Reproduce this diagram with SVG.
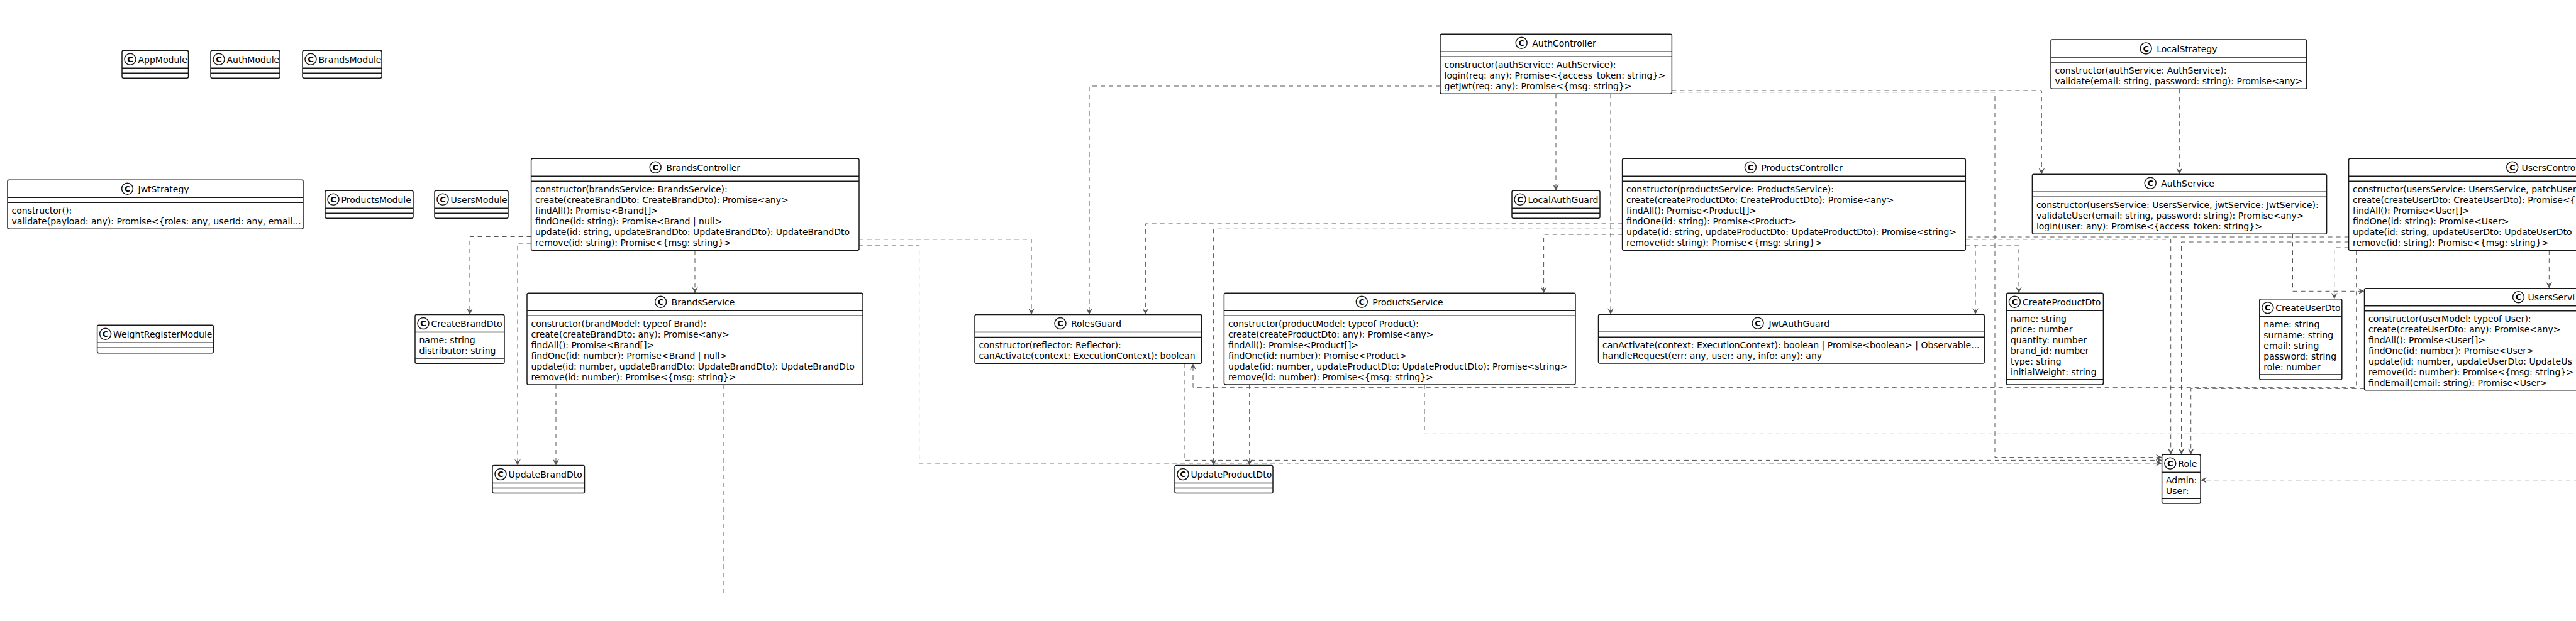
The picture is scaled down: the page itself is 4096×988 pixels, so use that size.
<svg xmlns="http://www.w3.org/2000/svg" width="4096" height="988" viewBox="0 0 4096 988">
<style>
.n rect{fill:#fff;stroke:#181818;stroke-width:1.5}
.n line{stroke:#181818;stroke-width:1.5}
.n circle{fill:#fff;stroke:#181818;stroke-width:1.5}
text{font-family:"DejaVu Sans","Liberation Sans",sans-serif;font-size:14px;fill:#000}
text.ic{font-weight:bold;font-size:13px;text-anchor:middle}
.dep{fill:none;stroke:#555;stroke-width:1;stroke-dasharray:7,6}
</style>
<defs>
<marker id="arr" viewBox="0 0 10 10" refX="10" refY="5" markerWidth="10" markerHeight="10" orient="auto" markerUnits="userSpaceOnUse"><path d="M0,0 L10,5 L0,10 L4,5 Z" fill="#555" stroke="none"/></marker>
</defs>
<rect x="0" y="0" width="4096" height="988" fill="#fff"/>
<g id="connectors">
<path class="dep" marker-end="url(#arr)" d="M844.6,376.5 H747 V500.6"/>
<path class="dep" marker-end="url(#arr)" d="M844.6,387 H823 V740.5"/>
<path class="dep" marker-end="url(#arr)" d="M884,612 V740.5"/>
<path class="dep" marker-end="url(#arr)" d="M1105,398.3 V466.3"/>
<path class="dep" d="M1150,612 V943.5 H4100"/>
<path class="dep" marker-end="url(#arr)" d="M1366,380.8 H1640 V500.6"/>
<path class="dep" marker-end="url(#arr)" d="M1366,390 H1461.6 V736.9 H3437.6"/>
<path class="dep" marker-end="url(#arr)" d="M2290,137 H1732 V500.6"/>
<path class="dep" marker-end="url(#arr)" d="M2474,149.3 V303.3"/>
<path class="dep" marker-end="url(#arr)" d="M2561,149.3 V500.3"/>
<path class="dep" marker-end="url(#arr)" d="M2658.4,144 H3246.3 V277.3"/>
<path class="dep" marker-end="url(#arr)" d="M2658.4,146.7 H3172 V727.6 H3437.6"/>
<path class="dep" marker-end="url(#arr)" d="M3465.3,141.3 V277.3"/>
<path class="dep" marker-end="url(#arr)" d="M2579.6,356 H1821.4 V500.6"/>
<path class="dep" marker-end="url(#arr)" d="M2579.6,364.3 H1929.6 V740.5"/>
<path class="dep" marker-end="url(#arr)" d="M2579.6,373 H2454.6 V466.3"/>
<path class="dep" marker-end="url(#arr)" d="M1986.7,612 V740.5"/>
<path class="dep" d="M2265,612 V690.4 H4100"/>
<path class="dep" marker-end="url(#arr)" d="M1883,578.3 V732.4 H3437.6"/>
<path class="dep" marker-end="url(#arr)" d="M3746.7,398.3 V616.3 H1897 V578.3"/>
<path class="dep" marker-end="url(#arr)" d="M3125.3,389.5 H3141 V500.3"/>
<path class="dep" marker-end="url(#arr)" d="M3125.3,390 H3210 V466.3"/>
<path class="dep" marker-end="url(#arr)" d="M3125.3,380.8 H3451.7 V723.2"/>
<path class="dep" d="M3734.6,377 H3125.3"/>
<path class="dep" marker-end="url(#arr)" d="M3734.6,385 H3468.5 V723.2"/>
<path class="dep" marker-end="url(#arr)" d="M3734.6,394 H3711.7 V475.7"/>
<path class="dep" marker-end="url(#arr)" d="M3645.5,372.3 V463.3 H3759.5"/>
<path class="dep" marker-end="url(#arr)" d="M4053.3,398.3 V458.7"/>
<path class="dep" marker-end="url(#arr)" d="M3759.5,618.3 H3483.7 V723.2"/>
<path class="dep" marker-end="url(#arr)" d="M4100,763.7 H3499"/>
</g>
<g id="AppModule" class="n"><rect x="194" y="80.3" width="105.5" height="44" rx="2.5"/><line x1="194" y1="108.3" x2="299.5" y2="108.3"/><line x1="194" y1="116.3" x2="299.5" y2="116.3"/><circle cx="207" cy="94.3" r="9"/><text class="ic" x="207" y="99">C</text><text x="219.5" y="99.8">AppModule</text></g>
<g id="AuthModule" class="n"><rect x="335" y="80.3" width="110" height="44" rx="2.5"/><line x1="335" y1="108.3" x2="445" y2="108.3"/><line x1="335" y1="116.3" x2="445" y2="116.3"/><circle cx="348" cy="94.3" r="9"/><text class="ic" x="348" y="99">C</text><text x="360.5" y="99.8">AuthModule</text></g>
<g id="BrandsModule" class="n"><rect x="481" y="80.3" width="126" height="44" rx="2.5"/><line x1="481" y1="108.3" x2="607" y2="108.3"/><line x1="481" y1="116.3" x2="607" y2="116.3"/><circle cx="494" cy="94.3" r="9"/><text class="ic" x="494" y="99">C</text><text x="506.5" y="99.8">BrandsModule</text></g>
<g id="ProductsModule" class="n"><rect x="517" y="303.3" width="140" height="44" rx="2.5"/><line x1="517" y1="331.3" x2="657" y2="331.3"/><line x1="517" y1="339.3" x2="657" y2="339.3"/><circle cx="530" cy="317.3" r="9"/><text class="ic" x="530" y="322">C</text><text x="542.5" y="322.8">ProductsModule</text></g>
<g id="UsersModule" class="n"><rect x="691" y="303.3" width="117" height="44" rx="2.5"/><line x1="691" y1="331.3" x2="808" y2="331.3"/><line x1="691" y1="339.3" x2="808" y2="339.3"/><circle cx="704" cy="317.3" r="9"/><text class="ic" x="704" y="322">C</text><text x="716.5" y="322.8">UsersModule</text></g>
<g id="WeightRegisterModule" class="n"><rect x="154.6" y="517.3" width="184.7" height="44.4" rx="2.5"/><line x1="154.6" y1="545.3" x2="339.3" y2="545.3"/><line x1="154.6" y1="553.3" x2="339.3" y2="553.3"/><circle cx="167.6" cy="531.3" r="9"/><text class="ic" x="167.6" y="536">C</text><text x="180.1" y="536.8">WeightRegisterModule</text></g>
<g id="LocalAuthGuard" class="n"><rect x="2404" y="303.3" width="140" height="44" rx="2.5"/><line x1="2404" y1="331.3" x2="2544" y2="331.3"/><line x1="2404" y1="339.3" x2="2544" y2="339.3"/><circle cx="2417" cy="317.3" r="9"/><text class="ic" x="2417" y="322">C</text><text x="2429.5" y="322.8">LocalAuthGuard</text></g>
<g id="UpdateBrandDto" class="n"><rect x="783" y="740.5" width="146.5" height="44" rx="2.5"/><line x1="783" y1="768.5" x2="929.5" y2="768.5"/><line x1="783" y1="776.5" x2="929.5" y2="776.5"/><circle cx="796" cy="754.5" r="9"/><text class="ic" x="796" y="759.2">C</text><text x="808.5" y="760">UpdateBrandDto</text></g>
<g id="UpdateProductDto" class="n"><rect x="1868" y="740.5" width="156" height="44" rx="2.5"/><line x1="1868" y1="768.5" x2="2024" y2="768.5"/><line x1="1868" y1="776.5" x2="2024" y2="776.5"/><circle cx="1881" cy="754.5" r="9"/><text class="ic" x="1881" y="759.2">C</text><text x="1893.5" y="760">UpdateProductDto</text></g>
<g id="JwtStrategy" class="n"><rect x="12" y="286.3" width="470" height="78" rx="2.5"/><line x1="12" y1="314.3" x2="482" y2="314.3"/><line x1="12" y1="322.3" x2="482" y2="322.3"/><circle cx="202.5" cy="300.3" r="9"/><text class="ic" x="202.5" y="305">C</text><text x="219.5" y="305.8">JwtStrategy</text><text x="18.5" y="339.8">constructor():</text><text x="18.5" y="356.8">validate(payload: any): Promise&lt;{roles: any, userId: any, email...</text></g>
<g id="BrandsController" class="n"><rect x="844.6" y="252.3" width="521.4" height="146" rx="2.5"/><line x1="844.6" y1="280.3" x2="1366" y2="280.3"/><line x1="844.6" y1="288.3" x2="1366" y2="288.3"/><circle cx="1042.2" cy="266.3" r="9"/><text class="ic" x="1042.2" y="271">C</text><text x="1059.2" y="271.8">BrandsController</text>
<text x="851.1" y="305.8">constructor(brandsService: BrandsService):</text>
<text x="851.1" y="322.8">create(createBrandDto: CreateBrandDto): Promise&lt;any&gt;</text>
<text x="851.1" y="339.8">findAll(): Promise&lt;Brand[]&gt;</text>
<text x="851.1" y="356.8">findOne(id: string): Promise&lt;Brand | null&gt;</text>
<text x="851.1" y="373.8">update(id: string, updateBrandDto: UpdateBrandDto): UpdateBrandDto</text>
<text x="851.1" y="390.8">remove(id: string): Promise&lt;{msg: string}&gt;</text></g>
<g id="BrandsService" class="n"><rect x="838" y="466.3" width="534" height="145.7" rx="2.5"/><line x1="838" y1="494.3" x2="1372" y2="494.3"/><line x1="838" y1="502.3" x2="1372" y2="502.3"/><circle cx="1050.6" cy="480.3" r="9"/><text class="ic" x="1050.6" y="485">C</text><text x="1067.6" y="485.8">BrandsService</text>
<text x="844.5" y="519.8">constructor(brandModel: typeof Brand):</text>
<text x="844.5" y="536.8">create(createBrandDto: any): Promise&lt;any&gt;</text>
<text x="844.5" y="553.8">findAll(): Promise&lt;Brand[]&gt;</text>
<text x="844.5" y="570.8">findOne(id: number): Promise&lt;Brand | null&gt;</text>
<text x="844.5" y="587.8">update(id: number, updateBrandDto: UpdateBrandDto): UpdateBrandDto</text>
<text x="844.5" y="604.8">remove(id: number): Promise&lt;{msg: string}&gt;</text></g>
<g id="CreateBrandDto" class="n"><rect x="660" y="500.6" width="142" height="77.7" rx="2.5"/><line x1="660" y1="528.6" x2="802" y2="528.6"/><line x1="660" y1="569.9" x2="802" y2="569.9"/><circle cx="673" cy="514.6" r="9"/><text class="ic" x="673" y="519.3">C</text><text x="685.5" y="520.1">CreateBrandDto</text>
<text x="666.5" y="546.3">name: string</text><text x="666.5" y="563.3">distributor: string</text></g>
<g id="RolesGuard" class="n"><rect x="1550" y="500.6" width="360.7" height="77.7" rx="2.5"/><line x1="1550" y1="528.6" x2="1910.7" y2="528.6"/><line x1="1550" y1="536.6" x2="1910.7" y2="536.6"/><circle cx="1686" cy="514.6" r="9"/><text class="ic" x="1686" y="519.3">C</text><text x="1703" y="520.1">RolesGuard</text>
<text x="1556.5" y="554.1">constructor(reflector: Reflector):</text><text x="1556.5" y="571.1">canActivate(context: ExecutionContext): boolean</text></g>
<g id="ProductsService" class="n"><rect x="1946.4" y="466.3" width="558.6" height="145.7" rx="2.5"/><line x1="1946.4" y1="494.3" x2="2505" y2="494.3"/><line x1="1946.4" y1="502.3" x2="2505" y2="502.3"/><circle cx="2165.3" cy="480.3" r="9"/><text class="ic" x="2165.3" y="485">C</text><text x="2182.3" y="485.8">ProductsService</text>
<text x="1952.9" y="519.8">constructor(productModel: typeof Product):</text>
<text x="1952.9" y="536.8">create(createProductDto: any): Promise&lt;any&gt;</text>
<text x="1952.9" y="553.8">findAll(): Promise&lt;Product[]&gt;</text>
<text x="1952.9" y="570.8">findOne(id: number): Promise&lt;Product&gt;</text>
<text x="1952.9" y="587.8">update(id: number, updateProductDto: UpdateProductDto): Promise&lt;string&gt;</text>
<text x="1952.9" y="604.8">remove(id: number): Promise&lt;{msg: string}&gt;</text></g>
<g id="AuthController" class="n"><rect x="2290" y="54.3" width="368.4" height="95" rx="2.5"/><line x1="2290" y1="82.3" x2="2658.4" y2="82.3"/><line x1="2290" y1="90.3" x2="2658.4" y2="90.3"/><circle cx="2419.2" cy="68.3" r="9"/><text class="ic" x="2419.2" y="73">C</text><text x="2436.2" y="73.8">AuthController</text>
<text x="2296.5" y="107.8">constructor(authService: AuthService):</text>
<text x="2296.5" y="124.8">login(req: any): Promise&lt;{access_token: string}&gt;</text>
<text x="2296.5" y="141.8">getJwt(req: any): Promise&lt;{msg: string}&gt;</text></g>
<g id="ProductsController" class="n"><rect x="2579.6" y="252.3" width="545.7" height="146" rx="2.5"/><line x1="2579.6" y1="280.3" x2="3125.3" y2="280.3"/><line x1="2579.6" y1="288.3" x2="3125.3" y2="288.3"/><circle cx="2783.4" cy="266.3" r="9"/><text class="ic" x="2783.4" y="271">C</text><text x="2800.4" y="271.8">ProductsController</text>
<text x="2586.1" y="305.8">constructor(productsService: ProductsService):</text>
<text x="2586.1" y="322.8">create(createProductDto: CreateProductDto): Promise&lt;any&gt;</text>
<text x="2586.1" y="339.8">findAll(): Promise&lt;Product[]&gt;</text>
<text x="2586.1" y="356.8">findOne(id: string): Promise&lt;Product&gt;</text>
<text x="2586.1" y="373.8">update(id: string, updateProductDto: UpdateProductDto): Promise&lt;string&gt;</text>
<text x="2586.1" y="390.8">remove(id: string): Promise&lt;{msg: string}&gt;</text></g>
<g id="JwtAuthGuard" class="n"><rect x="2541.5" y="500.3" width="613.7" height="77.7" rx="2.5"/><line x1="2541.5" y1="528.3" x2="3155.2" y2="528.3"/><line x1="2541.5" y1="536.3" x2="3155.2" y2="536.3"/><circle cx="2795" cy="514.3" r="9"/><text class="ic" x="2795" y="519">C</text><text x="2812.5" y="519.8">JwtAuthGuard</text>
<text x="2548" y="553.8">canActivate(context: ExecutionContext): boolean | Promise&lt;boolean&gt; | Observable...</text>
<text x="2548" y="570.8">handleRequest(err: any, user: any, info: any): any</text></g>
<g id="LocalStrategy" class="n"><rect x="3261" y="63" width="406.8" height="78.3" rx="2.5"/><line x1="3261" y1="91" x2="3667.8" y2="91"/><line x1="3261" y1="99" x2="3667.8" y2="99"/><circle cx="3412.2" cy="77" r="9"/><text class="ic" x="3412.2" y="81.7">C</text><text x="3429.2" y="82.5">LocalStrategy</text>
<text x="3267.5" y="116.5">constructor(authService: AuthService):</text>
<text x="3267.5" y="133.5">validate(email: string, password: string): Promise&lt;any&gt;</text></g>
<g id="AuthService" class="n"><rect x="3231.4" y="277.3" width="468.2" height="95" rx="2.5"/><line x1="3231.4" y1="305.3" x2="3699.6" y2="305.3"/><line x1="3231.4" y1="313.3" x2="3699.6" y2="313.3"/><circle cx="3419.2" cy="291.3" r="9"/><text class="ic" x="3419.2" y="296">C</text><text x="3436.2" y="296.8">AuthService</text>
<text x="3237.9" y="330.8">constructor(usersService: UsersService, jwtService: JwtService):</text>
<text x="3237.9" y="347.8">validateUser(email: string, password: string): Promise&lt;any&gt;</text>
<text x="3237.9" y="364.8">login(user: any): Promise&lt;{access_token: string}&gt;</text></g>
<g id="CreateProductDto" class="n"><rect x="3190.4" y="466.3" width="154" height="145.7" rx="2.5"/><line x1="3190.4" y1="494.3" x2="3344.4" y2="494.3"/><line x1="3190.4" y1="603.7" x2="3344.4" y2="603.7"/><circle cx="3203.4" cy="480.3" r="9"/><text class="ic" x="3203.4" y="485">C</text><text x="3215.9" y="485.8">CreateProductDto</text>
<text x="3196.9" y="512">name: string</text><text x="3196.9" y="529">price: number</text><text x="3196.9" y="546">quantity: number</text><text x="3196.9" y="563">brand_id: number</text><text x="3196.9" y="580">type: string</text><text x="3196.9" y="597">initialWeight: string</text></g>
<g id="CreateUserDto" class="n"><rect x="3592.8" y="475.7" width="131" height="128.3" rx="2.5"/><line x1="3592.8" y1="503.7" x2="3723.8" y2="503.7"/><line x1="3592.8" y1="596" x2="3723.8" y2="596"/><circle cx="3605.8" cy="489.7" r="9"/><text class="ic" x="3605.8" y="494.4">C</text><text x="3618.3" y="495.2">CreateUserDto</text>
<text x="3599.3" y="521.2">name: string</text><text x="3599.3" y="538.2">surname: string</text><text x="3599.3" y="555.2">email: string</text><text x="3599.3" y="572.2">password: string</text><text x="3599.3" y="589.2">role: number</text></g>
<g id="UsersController" class="n"><rect x="3734.6" y="252.3" width="636.6" height="146" rx="2.5"/><line x1="3734.6" y1="280.3" x2="4371.2" y2="280.3"/><line x1="3734.6" y1="288.3" x2="4371.2" y2="288.3"/><circle cx="3994.7" cy="266.3" r="9"/><text class="ic" x="3994.7" y="271">C</text><text x="4009.5" y="271.8">UsersContro</text>
<text x="3741.1" y="305.8">constructor(usersService: UsersService, patchUser</text>
<text x="3741.1" y="322.8">create(createUserDto: CreateUserDto): Promise&lt;{</text>
<text x="3741.1" y="339.8">findAll(): Promise&lt;User[]&gt;</text>
<text x="3741.1" y="356.8">findOne(id: string): Promise&lt;User&gt;</text>
<text x="3741.1" y="373.8">update(id: string, updateUserDto: UpdateUserDto</text>
<text x="3741.1" y="390.8">remove(id: string): Promise&lt;{msg: string}&gt;</text></g>
<g id="UsersService" class="n"><rect x="3759.5" y="458.7" width="589" height="162" rx="2.5"/><line x1="3759.5" y1="486.7" x2="4348.5" y2="486.7"/><line x1="3759.5" y1="494.7" x2="4348.5" y2="494.7"/><circle cx="4004.5" cy="472.7" r="9"/><text class="ic" x="4004.5" y="477.4">C</text><text x="4019.5" y="478.2">UsersServi</text>
<text x="3766" y="512.2">constructor(userModel: typeof User):</text>
<text x="3766" y="529.2">create(createUserDto: any): Promise&lt;any&gt;</text>
<text x="3766" y="546.2">findAll(): Promise&lt;User[]&gt;</text>
<text x="3766" y="563.2">findOne(id: number): Promise&lt;User&gt;</text>
<text x="3766" y="580.2">update(id: number, updateUserDto: UpdateUs</text>
<text x="3766" y="597.2">remove(id: number): Promise&lt;{msg: string}&gt;</text>
<text x="3766" y="614.2">findEmail(email: string): Promise&lt;User&gt;</text></g>
<g id="Role" class="n"><rect x="3437.6" y="723.2" width="61.4" height="77.8" rx="2.5"/><line x1="3437.6" y1="751.2" x2="3499" y2="751.2"/><line x1="3437.6" y1="793.3" x2="3499" y2="793.3"/><circle cx="3450.8" cy="737.2" r="9"/><text class="ic" x="3450.8" y="741.9">C</text><text x="3463.3" y="742.7">Role</text>
<text x="3444" y="768.7">Admin:</text><text x="3444" y="785.7">User:</text></g>
</svg>
